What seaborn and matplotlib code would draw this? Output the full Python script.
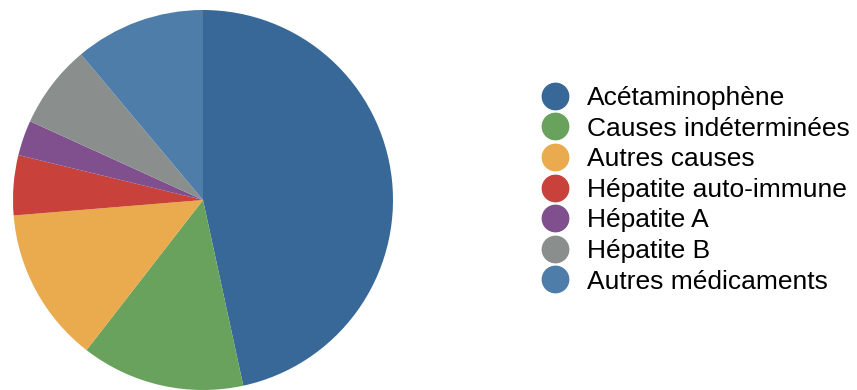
import matplotlib
matplotlib.use("Agg")
import matplotlib.pyplot as plt
from matplotlib.lines import Line2D
import seaborn as sns

# Causes of acute liver failure (share of cases, %)
causes = ["Acétaminophène", "Causes indéterminées", "Autres causes",
          "Hépatite auto-immune", "Hépatite A", "Hépatite B", "Autres médicaments"]
shares = [46.6, 13.9, 13.2, 5.1, 3.0, 7.1, 11.1]
colors = ["#386897", "#68A25C", "#E9AB4E", "#C8423B", "#7F4F8E", "#8A8F8E", "#4F7DAA"]

sns.set_theme(style="white")
plt.rcParams["font.family"] = ["Liberation Sans", "DejaVu Sans"]

fig = plt.figure(figsize=(8.57, 3.90), dpi=100)
W, H = 857, 390
ax = fig.add_axes([13 / W, 0 / H, 380 / W, 380 / H])
palette = sns.color_palette(colors)

ax.pie(shares, colors=palette, startangle=90, counterclock=False,
       radius=1.0, wedgeprops=dict(linewidth=0))
ax.set_xlim(-1, 1)
ax.set_ylim(-1, 1)
ax.set_aspect("equal")
ax.axis("off")

handles = [Line2D([0], [0], marker="o", linestyle="", markersize=19,
                  markerfacecolor=c, markeredgecolor=c) for c in palette]
fig.legend(handles, causes, loc="upper left",
           bbox_to_anchor=(542 / W, 1 - 86 / H), frameon=False,
           fontsize=19, handlelength=1.0, handletextpad=0.71,
           labelspacing=0.25, borderpad=0, borderaxespad=0,
           labelcolor="black")

fig.savefig("out.png", dpi=100, facecolor="white")
